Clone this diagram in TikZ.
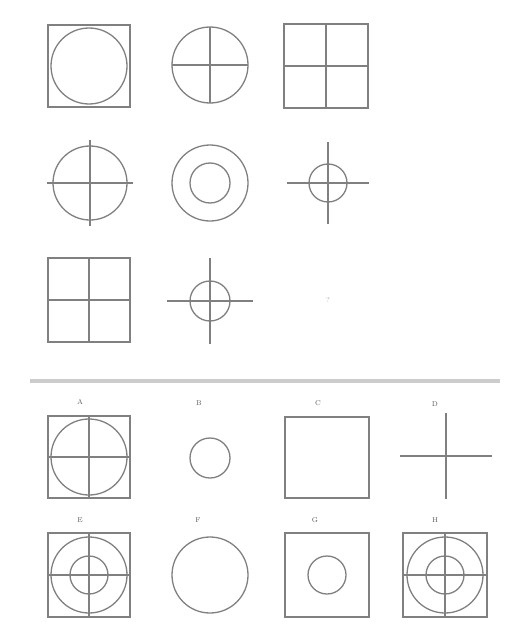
\documentclass[tikz,border=0pt]{standalone}
\usetikzlibrary{positioning,calc}

\begin{document}
\begin{tikzpicture}[
    x=1pt, y=-1pt,
    shape line/.style={draw=black!50, line width=1.3pt},
    rule/.style={draw=black!20, line width=4pt},
    tag/.style={font=\fontsize{7}{8}\selectfont, text=black!65, inner sep=0pt},
    ask/.style={font=\fontsize{7}{8}\selectfont, text=black!35, inner sep=0pt}
]
\useasboundingbox (0,0) rectangle (512,634);

% ============================================================
% MATRIX CELLS
% ============================================================
\coordinate (m11) at ( 89, 66);
\coordinate (m12) at (210, 65);
\coordinate (m13) at (326, 66);
\coordinate (m21) at ( 90,183);
\coordinate (m22) at (210,183);
\coordinate (m23) at (328,183);
\coordinate (m31) at ( 89,300);
\coordinate (m32) at (210,301);
\coordinate (m33) at (328,300);

% row 1
\draw[shape line] ($(m11)+(-41,-41)$) rectangle ($(m11)+(41,41)$);
\draw[shape line] (m11) circle[radius=38];

\draw[shape line] (m12) circle[radius=38];
\draw[shape line] ($(m12)+(-38,0)$) -- ($(m12)+(38,0)$);
\draw[shape line] ($(m12)+(0,-38)$) -- ($(m12)+(0,38)$);

\draw[shape line] ($(m13)+(-42,-42)$) rectangle ($(m13)+(42,42)$);
\draw[shape line] ($(m13)+(-42,0)$) -- ($(m13)+(42,0)$);
\draw[shape line] ($(m13)+(0,-42)$) -- ($(m13)+(0,42)$);

% row 2
\draw[shape line] (m21) circle[radius=37];
\draw[shape line] ($(m21)+(-43,0)$) -- ($(m21)+(43,0)$);
\draw[shape line] ($(m21)+(0,-43)$) -- ($(m21)+(0,43)$);

\draw[shape line] (m22) circle[radius=38];
\draw[shape line] (m22) circle[radius=20];

\draw[shape line] (m23) circle[radius=19];
\draw[shape line] ($(m23)+(-41,0)$) -- ($(m23)+(41,0)$);
\draw[shape line] ($(m23)+(0,-41)$) -- ($(m23)+(0,41)$);

% row 3
\draw[shape line] ($(m31)+(-41,-42)$) rectangle ($(m31)+(41,42)$);
\draw[shape line] ($(m31)+(-41,0)$) -- ($(m31)+(41,0)$);
\draw[shape line] ($(m31)+(0,-42)$) -- ($(m31)+(0,42)$);

\draw[shape line] (m32) circle[radius=20];
\draw[shape line] ($(m32)+(-43,0)$) -- ($(m32)+(43,0)$);
\draw[shape line] ($(m32)+(0,-43)$) -- ($(m32)+(0,43)$);

\node[ask] (qm) at (m33) {?};

% ============================================================
% SEPARATOR
% ============================================================
\coordinate (sepL) at ( 30,381);
\coordinate (sepR) at (500,381);
\draw[rule] (sepL) -- (sepR);

% ============================================================
% ANSWER OPTIONS
% ============================================================
\coordinate (oA) at ( 89,457);
\coordinate (oB) at (210,458);
\coordinate (oC) at (327,457);
\coordinate (oD) at (446,456);
\coordinate (oE) at ( 89,575);
\coordinate (oF) at (210,575);
\coordinate (oG) at (327,575);
\coordinate (oH) at (445,575);

\node[tag] (labA) at ( 80,402) {A};
\node[tag] (labB) at (199,403) {B};
\node[tag] (labC) at (318,403) {C};
\node[tag] (labD) at (435,404) {D};
\node[tag] (labE) at ( 80,520) {E};
\node[tag] (labF) at (198,520) {F};
\node[tag] (labG) at (315,520) {G};
\node[tag] (labH) at (435,520) {H};

% A
\draw[shape line] ($(oA)+(-41,-41)$) rectangle ($(oA)+(41,41)$);
\draw[shape line] (oA) circle[radius=38];
\draw[shape line] ($(oA)+(-41,0)$) -- ($(oA)+(41,0)$);
\draw[shape line] ($(oA)+(0,-41)$) -- ($(oA)+(0,41)$);

% B
\draw[shape line] (oB) circle[radius=20];

% C
\draw[shape line] ($(oC)+(-42,-40)$) rectangle ($(oC)+(42,41)$);

% D
\draw[shape line] ($(oD)+(-46,0)$) -- ($(oD)+(46,0)$);
\draw[shape line] ($(oD)+(0,-43)$) -- ($(oD)+(0,43)$);

% E
\draw[shape line] ($(oE)+(-41,-42)$) rectangle ($(oE)+(41,42)$);
\draw[shape line] (oE) circle[radius=38];
\draw[shape line] (oE) circle[radius=19];
\draw[shape line] ($(oE)+(-41,0)$) -- ($(oE)+(41,0)$);
\draw[shape line] ($(oE)+(0,-42)$) -- ($(oE)+(0,42)$);

% F
\draw[shape line] (oF) circle[radius=38];

% G
\draw[shape line] ($(oG)+(-42,-42)$) rectangle ($(oG)+(42,42)$);
\draw[shape line] (oG) circle[radius=19];

% H
\draw[shape line] ($(oH)+(-42,-42)$) rectangle ($(oH)+(42,42)$);
\draw[shape line] (oH) circle[radius=38];
\draw[shape line] (oH) circle[radius=19];
\draw[shape line] ($(oH)+(-42,0)$) -- ($(oH)+(42,0)$);
\draw[shape line] ($(oH)+(0,-42)$) -- ($(oH)+(0,42)$);

\end{tikzpicture}
\end{document}
